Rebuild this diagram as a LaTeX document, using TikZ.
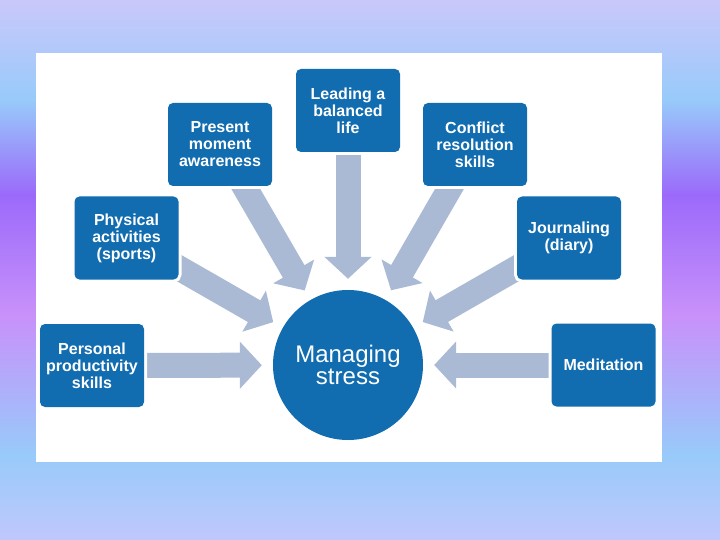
\documentclass[tikz,border=0pt]{standalone}
\usepackage{fontspec}
\setmainfont{Liberation Sans}
\usetikzlibrary{arrows.meta}

\definecolor{boxblue}{RGB}{17,108,176}
\definecolor{flowgray}{RGB}{170,186,212}
\definecolor{bglav}{RGB}{202,200,250}
\definecolor{bgsky}{RGB}{152,202,250}
\definecolor{bgpurple}{RGB}{155,106,250}
\definecolor{bglilac}{RGB}{200,145,250}
\definecolor{bglavb}{RGB}{192,200,252}

\pgfdeclarelayer{bg}
\pgfdeclarelayer{flows}
\pgfsetlayers{bg,flows,main}

\begin{document}
\begin{tikzpicture}[
    x=1pt, y=-1pt,
    topic/.style={fill=boxblue, rounded corners=5pt, text=white, align=center,
      preaction={draw=white, line width=6pt},
      font=\fontsize{16}{17}\selectfont\bfseries,
      minimum width=104pt, minimum height=83pt, inner sep=0pt},
    flow/.style={draw=flowgray, line width=25pt,
      -{Triangle[length=22pt,width=46pt]}, shorten <=-20pt, shorten >=11pt}
]
\useasboundingbox (0,0) rectangle (720,540);

% background
\begin{pgfonlayer}{bg}
\shade[top color=bglav, bottom color=bgsky] (0,0) rectangle (720,100);
\shade[top color=bgsky, bottom color=bgpurple] (0,100) rectangle (720,195);
\shade[top color=bgpurple, bottom color=bglilac] (0,195) rectangle (720,315);
\shade[top color=bglilac, bottom color=bgsky] (0,315) rectangle (720,455);
\shade[top color=bgsky, bottom color=bglavb] (0,455) rectangle (720,540);
\fill[white] (36,53) rectangle (662,462);
\end{pgfonlayer}

\node[topic] (life) at (348,110.5) {Leading a\\balanced\\life};
\node[topic] (pmaw) at (220,144.5) {Present\\moment\\awareness};
\node[topic] (conf) at (475,144.5) {Conflict\\resolution\\skills};
\node[topic] (phys) at (126.5,238) {Physical\\activities\\(sports)};
\node[topic] (jour) at (569,238) {Journaling\\(diary)};
\node[topic] (pers) at (92,365.5) {Personal\\productivity\\skills};
\node[topic] (medi) at (603.5,365) {Meditation};

\node[circle, fill=boxblue, minimum size=150pt, inner sep=0pt, text=white,
  align=center, font=\fontsize{24}{22}\selectfont] (core) at (348,365) {Managing\\stress};

\begin{pgfonlayer}{flows}
\foreach \n in {pers,phys,pmaw,life,conf,jour,medi}{
   \draw[flow] (\n) -- (core);
}
\end{pgfonlayer}

\end{tikzpicture}
\end{document}
